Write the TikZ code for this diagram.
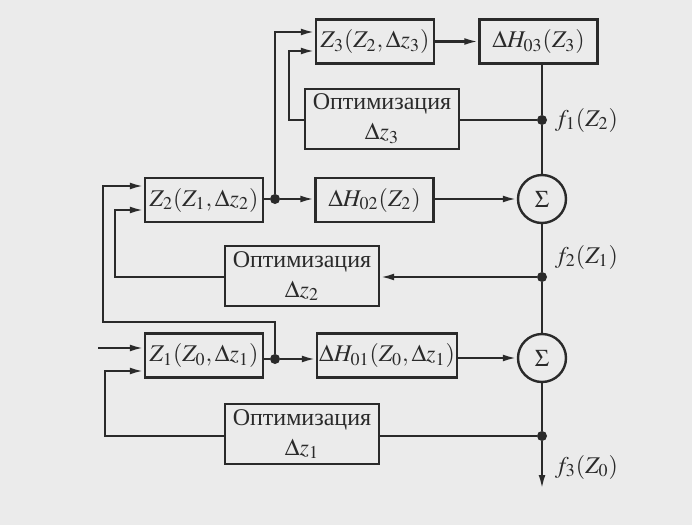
\documentclass[tikz,border=0pt]{standalone}
\usepackage[no-math]{fontspec}
\usepackage{mathptmx}
\setmainfont{Liberation Serif}
\usetikzlibrary{arrows.meta}
\definecolor{schemeLine}{HTML}{2A2A2A}
\definecolor{schemePaper}{HTML}{EBEBEB}
\begin{document}
\begin{tikzpicture}[
    x=0.5pt,y=-0.5pt,>=Latex,
    every node/.style={font=\fontsize{12}{15}\selectfont,align=center,text=schemeLine},
    block/.style={draw=schemeLine,line width=1.2pt,minimum width=59pt,minimum height=22pt,inner sep=0pt},
    optbox/.style={block,minimum width=77pt,minimum height=30pt},
    summer/.style={circle,draw=schemeLine,line width=1.2pt,minimum size=24pt,inner sep=0pt},
    dot/.style={circle,fill=schemeLine,inner sep=0pt,minimum size=5pt},
    flow/.style={-{Latex[length=7pt,width=3.4pt]},draw=schemeLine,line width=1.1pt},
    wire/.style={draw=schemeLine,line width=1.1pt}
]
\fill[schemePaper] (0,0) rectangle (692,525);

% stage 3
\node[block] (z3) at (375,41.5) {$Z_3(Z_2,\Delta z_3)$};
\node[block] (h3) at (538.5,41.5) {$\Delta H_{03}(Z_3)$};
\node[optbox] (opt3) at (382,119) {Оптимизация\\$\Delta z_3$};
\node[dot] (f1) at (542,120) {};
\node[anchor=west] (f1lab) at (548,120) {$f_1(Z_2)$};

% stage 2
\node[block] (z2) at (204,200) {$Z_2(Z_1,\Delta z_2)$};
\node[dot] (d2) at (275,199) {};
\node[block] (h2) at (374.5,200) {$\Delta H_{02}(Z_2)$};
\node[summer] (sum1) at (542,199) {$\Sigma$};
\node[optbox] (opt2) at (302,276) {Оптимизация\\$\Delta z_2$};
\node[dot] (f2) at (542,277) {};
\node[anchor=west] (f2lab) at (548,257) {$f_2(Z_1)$};

% stage 1
\node[block] (z1) at (204,355.5) {$Z_1(Z_0,\Delta z_1)$};
\node[dot] (d1) at (275,359) {};
\node[block,minimum width=70pt] (h1) at (387,355.5) {$\Delta H_{01}(Z_0,\Delta z_1)$};
\node[summer] (sum2) at (542,358) {$\Sigma$};
\node[optbox] (opt1) at (302,434) {Оптимизация\\$\Delta z_1$};
\node[dot] (f3) at (542,436) {};
\node[anchor=west] (f3lab) at (548,467) {$f_3(Z_0)$};
\coordinate (in) at (98,348);
\coordinate (out) at (542,489);

\draw[flow] (z3) -- (h3);
\draw[wire] (h3.south -| f1) -- (f1) -- (sum1);
\draw[wire] (opt3.east |- f1) -- (f1);
\draw[flow] (opt3.west |- f1) -| (289,51) -- ([yshift=-4.75pt]z3.west);
\draw[wire] (z2.east |- d2) -- (d2);
\draw[flow] (d2) -- (h2.west |- d2);
\draw[flow] (d2) |- ([yshift=4.75pt]z3.west);

\draw[flow] (h2.east |- sum1) -- (sum1);
\draw[wire] (sum1) -- (f2) -- (sum2);
\draw[flow] (f2) -- (opt2.east |- f2);
\draw[flow] (opt2.west |- f2) -| (115,210) -- ([yshift=-5pt]z2.west);
\draw[flow] (d1) |- (103,322) |- ([yshift=7pt]z2.west);

\draw[flow] (in) -- ([yshift=3.75pt]z1.west);
\draw[wire] (z1.east |- d1) -- (d1);
\draw[flow] (d1) -- (h1.west |- d1);
\draw[flow] (h1.east |- sum2) -- (sum2);
\draw[wire] (sum2) -- (f3);
\draw[wire] (opt1.east |- f3) -- (f3);
\draw[flow] (opt1.west |- f3) -| (105,371) -- ([yshift=-7.75pt]z1.west);
\draw[flow] (f3) -- (out);
\end{tikzpicture}
\end{document}
